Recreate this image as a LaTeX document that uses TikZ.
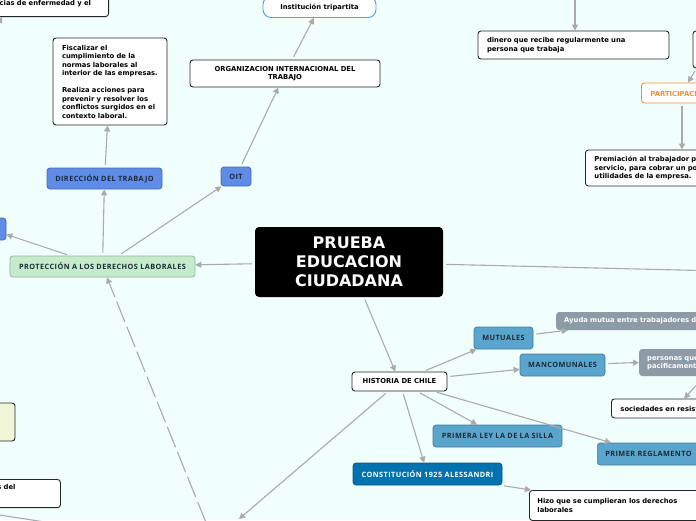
\documentclass[tikz,border=0pt]{standalone}
\usepackage{fontspec}
\setmainfont{DejaVu Sans}
\newfontfamily\tagfont[LetterSpace=6]{Open Sans}
\usetikzlibrary{arrows.meta,calc}
\definecolor{bgmint}{RGB}{240,255,252}
\definecolor{linegray}{RGB}{170,170,170}
\definecolor{cornblue}{RGB}{95,140,230}
\definecolor{skyblue}{RGB}{90,165,205}
\definecolor{deepblue}{RGB}{0,115,175}
\definecolor{slategray}{RGB}{140,155,165}
\definecolor{mintgreen}{RGB}{196,236,204}
\definecolor{tagorange}{RGB}{245,145,45}
\definecolor{paleyellow}{RGB}{240,245,215}
\definecolor{tagtext}{RGB}{30,42,55}
\definecolor{tripblue}{RGB}{80,160,230}
\tikzset{
    wbox/.style={draw=black!85, fill=white, rounded corners=3pt,
                 line width=0.9pt, align=left, inner sep=0pt,
                 font=\bfseries\fontsize{6.8}{8.5}\selectfont},
    tagbox/.style={draw=#1!75!black, fill=#1, rounded corners=3pt,
                   line width=0.7pt, inner sep=0pt, text=tagtext,
                   font=\tagfont\bfseries\fontsize{7.3}{8.5}\selectfont},
    gbox/.style={fill=slategray, rounded corners=3pt, text=white,
                 align=left, inner sep=0pt,
                 font=\bfseries\fontsize{6.8}{8.5}\selectfont},
}
\begin{document}
\begin{tikzpicture}[
    x=1pt, y=-1pt,
    arr/.style={-{Triangle[length=6pt,width=6pt]}, line width=1.1pt,
                draw=linegray, shorten <=3pt},
    link/.style={line width=1.1pt, draw=linegray}
]
    \useasboundingbox (0,0) rectangle (696,520);
    \clip (0,0) rectangle (696,520);
    \fill[bgmint] (0,0) rectangle (696,520);

    % centre
    \node[fill=black, rounded corners=4pt, text=white, align=center,
          minimum width=188pt, minimum height=70pt, inner sep=0pt,
          font=\bfseries\fontsize{16}{19}\selectfont] (root) at (349,262)
        {PRUEBA\\EDUCACION\\CIUDADANA};
    \coordinate (rootR) at (720,271);

    % left branch
    \node[tagbox=mintgreen, minimum width=185pt, minimum height=21pt]
        (protec) at (102.5,266.5) {PROTECCIÓN A LOS DERECHOS LABORALES};
    \node[tagbox=cornblue, minimum width=32pt, minimum height=22pt]
        (leftblue) at (-10,229) {};
    \node[tagbox=cornblue, minimum width=115pt, minimum height=21pt]
        (direc) at (104.5,178.5) {DIRECCIÓN DEL TRABAJO};
    \node[tagbox=cornblue, minimum width=30pt, minimum height=19pt]
        (oit) at (236,176.5) {OIT};
    \node[wbox, text width=96pt, inner xsep=9pt, minimum height=87pt]
        (fisc) at (110,81.5)
        {Fiscalizar el\\cumplimiento de la\\normas laborales al\\interior de las empresas.\\[8.5pt]
         Realiza acciones para\\prevenir y resolver los\\conflictos surgidos en el\\contexto laboral.};
    \node[wbox, align=center, minimum width=190pt, minimum height=27pt]
        (oitorg) at (285,73.5) {ORGANIZACION INTERNACIONAL DEL\\TRABAJO};
    \node[wbox, draw=tripblue, rounded corners=8pt, align=center,
          minimum width=113pt, minimum height=21pt]
        (tripart) at (319.5,7) {Institución tripartita};
    \node[wbox, text width=118pt, inner xsep=9pt, minimum height=26pt,
          anchor=south east] (enferm) at (109,17)
        {licencias de enfermedad y el};
    \coordinate (enfIn) at (-5,31);
    \node[wbox, fill=paleyellow, minimum width=50pt, minimum height=38pt]
        (yellow) at (-10,422) {};
    \node[wbox, text width=85pt, inner xsep=9pt, inner ysep=5pt,
          text depth=13pt, anchor=north west]
        (sdel) at (-43,479) {derechos del};
    \coordinate (blA) at (-20,512);
    \coordinate (blB) at (45,522);
    \coordinate (dashS) at (207,525);

    % top right
    \coordinate (dinTop) at (575,-10);
    \node[wbox, text width=173pt, inner xsep=9pt, minimum height=28pt]
        (dinero) at (573.5,45)
        {dinero que recibe regularmente una\\persona que trabaja};
    \node[wbox, minimum width=34pt, minimum height=37pt]
        (farR) at (710,49.5) {};
    \node[wbox, draw=tagorange, text=tagorange, text width=100pt,
          inner xsep=9pt, minimum height=20pt, anchor=west]
        (partic) at (641,93) {PARTICIPACIÓN};
    \node[wbox, text width=200pt, inner xsep=9pt, minimum height=36pt,
          anchor=west] (premia) at (585,168)
        {Premiación al trabajador por su\\servicio, para cobrar un porcentaje de las\\utilidades de la empresa.};

    % historia
    \node[wbox, align=center, minimum width=95pt, minimum height=19pt]
        (hist) at (399.5,381.5) {HISTORIA DE CHILE};
    \coordinate (hbot) at (239,519);
    \node[tagbox=skyblue, minimum width=59pt, minimum height=22pt]
        (mutual) at (503.5,338) {MUTUALES};
    \node[gbox, text width=200pt, inner xsep=8pt, minimum height=18pt,
          anchor=west] (ayuda) at (556,321)
        {Ayuda mutua entre trabajadores de un mismo oficio};
    \node[tagbox=skyblue, minimum width=85pt, minimum height=22pt]
        (mancom) at (562.5,365) {MANCOMUNALES};
    \node[gbox, text width=200pt, inner xsep=8pt, minimum height=27pt,
          anchor=west] (person) at (639,362.5)
        {personas que luchaban\\pacificamente por sus derechos};
    \node[wbox, text width=120pt, inner xsep=9pt, minimum height=19pt,
          anchor=west] (socied) at (611,408.5) {sociedades en resistencia};
    \node[tagbox=skyblue, minimum width=129pt, minimum height=22pt]
        (silla) at (497.5,436) {PRIMERA LEY LA DE LA SILLA};
    \node[tagbox=skyblue, align=left, text width=130pt, inner xsep=8pt,
          minimum height=22pt, anchor=west]
        (regla) at (597,454) {PRIMER REGLAMENTO};
    \node[tagbox=deepblue, text=white, minimum width=149pt, minimum height=22pt]
        (const) at (427.5,474) {CONSTITUCIÓN 1925 ALESSANDRI};
    \node[wbox, text width=200pt, inner xsep=8pt, minimum height=30pt,
          anchor=north west] (hizo) at (529,490)
        {Hizo que se cumplieran los derechos\\laborales};

    % connectors
    \draw[arr] (root) -- (protec);
    \draw[arr] (root) -- (hist);
    \draw[link, shorten <=3pt] (root) -- (rootR);
    \draw[arr] (protec) -- (leftblue);
    \draw[arr] (protec) -- (direc);
    \draw[arr] (protec) -- (oit);
    \draw[arr] (direc) -- (fisc);
    \draw[arr] (oit) -- (oitorg);
    \draw[arr] (oitorg) -- (tripart);
    \draw[arr] (enfIn) -- ([xshift=30pt]enferm.south west);
    \draw[arr, dash pattern=on 22pt off 5pt] (dashS) -- (protec);
    \draw[link] (blA) -- (blB);
    \draw[arr] (dinTop) -- (dinTop |- dinero.north);
    \draw[arr] ([xshift=4pt]farR.south west) -- ([xshift=47pt]partic.north west);
    \draw[arr] ([xshift=41pt]partic.south west) -- ([xshift=97pt]premia.north west);
    \draw[arr] (hist) -- (mutual);
    \draw[arr] (hist) -- (mancom);
    \draw[arr] (hist) -- (silla);
    \draw[arr] (hist) -- ([xshift=14pt]regla.north west);
    \draw[arr] (hist) -- (const);
    \draw[arr] (hist) -- (hbot);
    \draw[arr] (mutual) -- ([xshift=12pt]ayuda.south west);
    \draw[arr] (mancom) -- (person.west);
    \draw[arr] ([xshift=66pt]person.south west) -- ([xshift=73pt]socied.north west);
    \draw[arr] (const) -- ([xshift=2pt]hizo.north west);
\end{tikzpicture}
\end{document}
